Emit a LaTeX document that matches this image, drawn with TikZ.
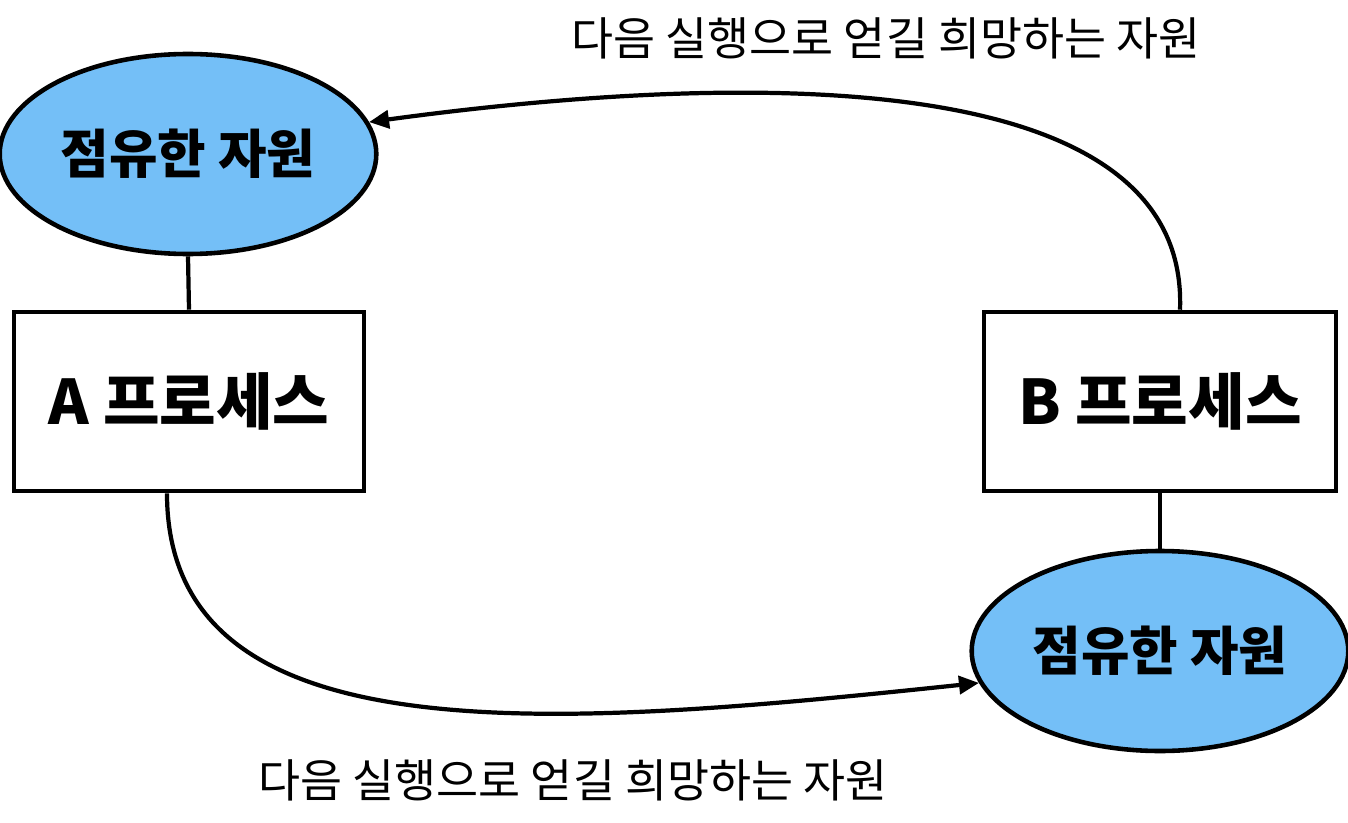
\documentclass[tikz,border=0pt]{standalone}
\usepackage{fontspec}
\usepackage{xcolor}
\newfontfamily\kofont{Noto Sans CJK KR}
\usetikzlibrary{shapes.geometric, positioning, calc, arrows.meta}
\definecolor{resblue}{RGB}{116,191,247}

\begin{document}
\begin{tikzpicture}[
    res/.style={ellipse, minimum width=7.4cm, minimum height=4cm, draw=black, line width=2.6pt, fill=resblue, font=\kofont\bfseries\fontsize{30}{36}\selectfont},
    proc/.style={rectangle, minimum width=7cm, minimum height=3.58cm, draw=black, line width=2.6pt, font=\kofont\bfseries\fontsize{35}{42}\selectfont},
    lbl/.style={font=\kofont\fontsize{26}{31}\selectfont},
    arrow/.style={line width=2.4pt, -{Triangle[length=0.4cm, width=0.36cm]}}
]
\useasboundingbox (0,0) rectangle (26.96,16.44);
\node (resA) [res] at (3.76,13.36) {점유한 자원};
\node (procA) [proc] at (3.78,8.41) {A 프로세스};
\node (procB) [proc, minimum width=7.04cm] at (23.2,8.41) {B 프로세스};
\node (resB) [res] at (23.2,3.42) {점유한 자원};
\node (wantB) [lbl] at (17.72,15.68) {다음 실행으로 얻길 희망하는 자원};
\node (wantA) [lbl] at (11.46,0.84) {다음 실행으로 얻길 희망하는 자원};
\coordinate (outA) at ([xshift=-0.44cm]procA.south);
\coordinate (outB) at ([xshift=0.4cm]procB.north);
\draw [line width=2.4pt] (resA.south) -- (procA.north);
\draw [line width=2.4pt] (procB.south) -- (resB.north);
\draw [arrow] (outA) .. controls (3.34,1.2) and (11.2,1.9) .. (resB.190);
\draw [arrow] (outB) .. controls (23.8,15.4) and (14,14.9) .. (resA.10);
\end{tikzpicture}
\end{document}
